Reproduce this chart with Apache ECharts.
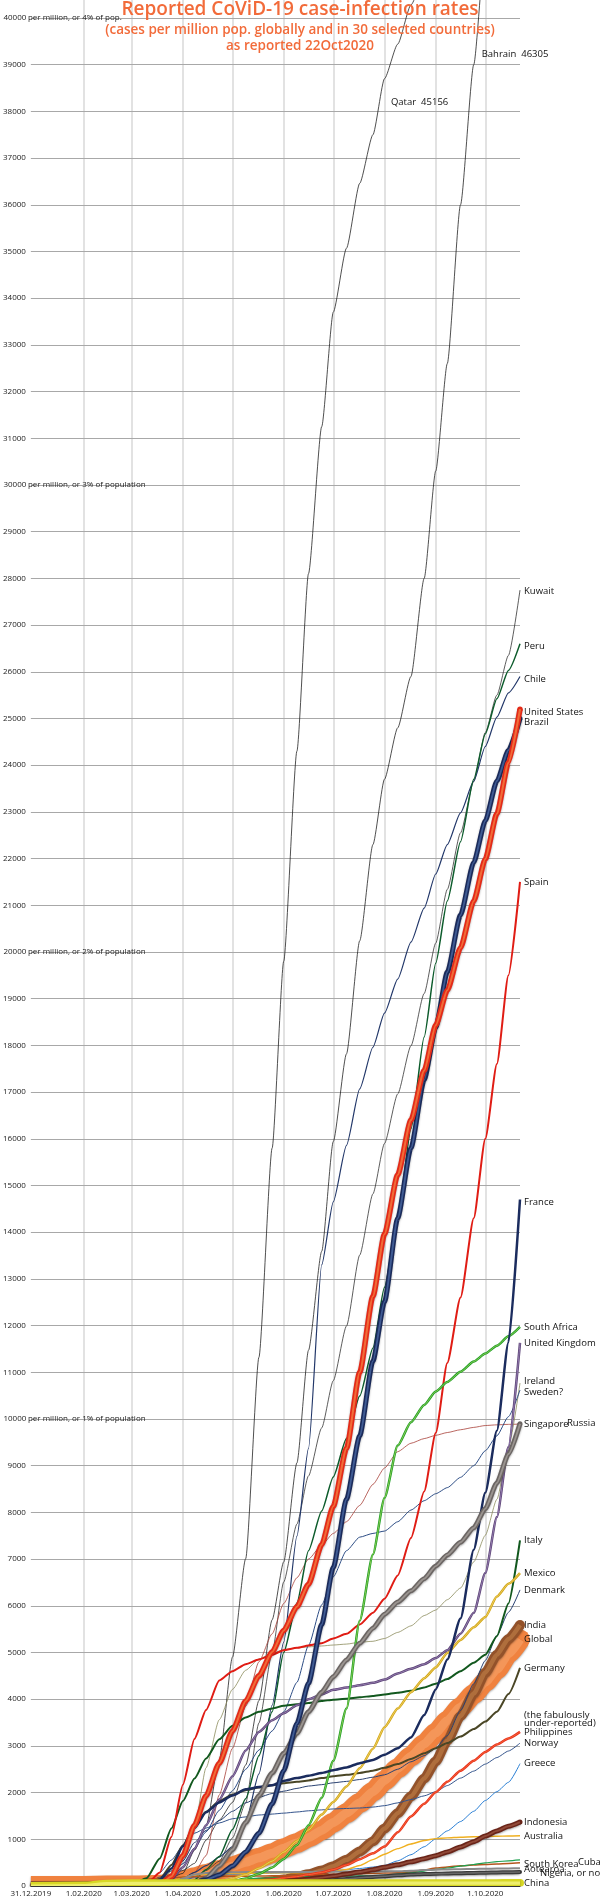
<!DOCTYPE html>
<html><head><meta charset="utf-8">
<script src="https://cdn.jsdelivr.net/npm/echarts@6/dist/echarts.min.js"></script>
<style>html,body{margin:0;padding:0;background:#fff}#c{width:600px;height:1899px}</style>
</head><body><div id="c"></div>
<script>
// ---- axes ----
const DAYS = [0,32,46,61,70,78,85,92,99,106,114,122,130,138,146,153,161,168,176,183,191,199,207,214,222,230,238,245,252,260,268,275,282,289,296];
const MONTH_DAYS = [0,32,61,92,122,153,183,214,245,275];
const MONTH_LABELS = ['31.12.2019','1.02.2020','1.03.2020','1.04.2020','1.05.2020','1.06.2020','1.07.2020','1.08.2020','1.09.2020','1.10.2020'];
const Y_NOTES = {10000:' per million, or 1% of population',20000:' per million, or 2% of population',30000:' per million, or 3% of population',40000:' per million, or 4% of pop.'};

// ---- cases per million, at DAYS ----
const GLOBAL = [0,1.5,9,11,15, 28,55,119,185,256, 340,423,510,603,700, 808,920,1040,1190,1360, 1560,1780,2020,2260,2520, 2780,3040,3280,3540,3830, 4110,4370,4640,4970,5280];
const INDIA = [0,0,0,0,0, 0,0.5,1.4,4,9, 17,25,44,69,100, 138,195,249,330,424, 560,740,960,1230,1560, 1920,2300,2670,3110,3640, 4120,4570,4950,5290,5590];
const US = [0,0,0,0,3, 28,205,650,1300,1930, 2630,3320,3960,4500,5010, 5470,5980,6460,7310,8130, 9370,11000,12630,13960,15230, 16400,17460,18430,19180,20090, 21090,21990,22960,24050,25200];
const BRAZIL = [0,0,0,0,0, 2,11,32,75,132, 235,430,730,1130,1760, 2470,3480,4340,5600,6820, 8280,9640,11240,12510,14300, 15800,17260,18390,19570,20790, 21920,22810,23660,24320,25000];
const SPAIN = [0,0,0,2,36, 290,1050,2170,3150,3770, 4400,4600,4750,4850,4950, 5050,5100,5150,5200,5300, 5400,5600,5850,6150,6650, 7450,8450,9700,11200,12600, 14300,16000,17600,19500,21500];
const FRANCE = [0,0,0,2,27, 135,375,850,1240,1580, 1790,1940,2070,2120,2160, 2250,2310,2360,2420,2480, 2540,2630,2700,2810,2950, 3180,3660,4210,4850,5730, 7200,8420,9750,11640,14700];
const SOUTH_AFRICA = [0,0,0,0,0, 2,12,23,31,42, 67,95,158,261,398, 580,877,1300,1890,2680, 3800,5680,7100,8310,9430, 9930,10300,10590,10790,11010, 11230,11400,11570,11770,11970];
const UK = [0,0,0,0,5, 40,140,400,800,1300, 1850,2350,2900,3300,3550, 3700,3870,4000,4100,4200, 4250,4300,4350,4420,4550, 4650,4750,4880,5050,5400, 5850,6700,7900,9400,11630];
const ITALY = [0,0,0,28,167, 590,1230,1820,2300,2730, 3140,3430,3610,3730,3800, 3860,3890,3920,3960,3990, 4010,4040,4070,4100,4140, 4180,4250,4330,4430,4600, 4780,4950,5350,6050,7400];
const GERMANY = [0,0,0,1,16, 145,450,870,1300,1590, 1820,1960,2050,2110,2160, 2200,2230,2260,2310,2350, 2380,2420,2470,2530,2610, 2720,2840,2950,3060,3200, 3360,3520,3730,4110,4670];
const PERU = [0,0,0,0,0, 4,15,32,130,350, 630,1210,1870,2790,3730, 5000,6060,7180,8030,8760, 9580,10490,11520,12820,14270, 16210,18180,19760,21090,22360, 23700,24670,25420,26030,26600];
const CHILE = [0,0,0,0,1, 12,60,160,290,435, 620,840,1360,2400,3870, 5220,7490,9370,13300,14650, 15860,17070,17960,18690,19420, 20210,20940,21670,22300,22980, 23660,24400,25030,25550,25900];
const KUWAIT = [0,0,0,10,16, 33,46,74,200,330, 530,1030,1780,3490,4990, 6510,7750,8780,9810,10820, 11990,13510,14820,15900,16960, 17990,19110,20190,21340,22550, 23650,24700,25500,26350,27750];
const QATAR = [0,0,0,0,8, 153,186,271,765,1280, 2700,4900,7010,11320,15800, 19800,24300,28100,31250,33700, 35070,36460,37500,38700,39440, 40280,40870,41390,42050,42780, 43400,43920,44410,44930,45156];
const BAHRAIN = [0,0,0,28,64, 150,246,333,483,982, 1410,1790,2590,3970,5700, 6940,9060,11470,13590,15940, 17820,20240,22300,23700,24800, 25900,28000,30300,32600,36000, 39000,41530,43410,44820,46305];
const SINGAPORE = [0,0,13,19,29, 55,111,176,285,650, 1950,2950,3850,4800,5400, 6050,6600,7000,7300,7550, 7800,8150,8600,8950,9300, 9480,9580,9650,9710,9770, 9820,9860,9875,9885,9890];
const IRELAND = [0,0,0,0,7, 59,316,700,1230,2530, 3560,4210,4620,4860,4980, 5060,5100,5120,5140,5160, 5180,5220,5240,5300,5430, 5570,5790,5910,6130,6380, 6940,7510,8280,9390,10770];
const SWEDEN = [0,0,0,1,31, 124,244,478,810,1160, 1620,2040,2500,2910,3320, 3730,4360,5150,6020,6620, 7180,7470,7550,7600,7800, 8050,8250,8400,8530,8750, 9000,9320,9640,10050,10620];
const RUSSIA = [0,0,0,0,0, 1,5,19,60,168, 430,780,1360,1930,2420, 2840,3270,3730,4150,4480, 4840,5200,5520,5820,6080, 6320,6580,6850,7090,7360, 7670,8080,8630,9250,9900];
const MEXICO = [0,0,0,0,0, 1,4,9,25,45, 90,160,244,381,532, 724,961,1200,1530,1800, 2130,2520,2940,3400,3800, 4150,4450,4680,4990,5270, 5540,5760,6200,6470,6700];
const DENMARK = [0,0,0,0,45, 190,324,535,930,1190, 1400,1600,1780,1900,1980, 2030,2090,2140,2170,2210, 2240,2280,2330,2380,2500, 2660,2790,2950,3220,3760, 4330,4830,5360,5860,6340];
const PHILIPPINES = [0,0,0,0,0, 2,6,21,35,49, 63,77,95,114,140, 169,200,244,290,350, 450,573,700,845,1150, 1490,1760,2010,2230,2470, 2680,2870,3030,3160,3300];
const NORWAY = [0,0,0,0,51, 287,555,860,1130,1240, 1350,1440,1480,1520,1540, 1560,1585,1610,1630,1650, 1660,1670,1690,1720,1780, 1850,1930,2020,2150,2310, 2460,2610,2750,2890,3060];
const GREECE = [0,0,0,0,9, 40,79,135,180,213, 235,250,260,270,275, 280,290,300,315,330, 350,375,405,440,540, 670,840,1010,1180,1380, 1600,1830,2020,2220,2620];
const INDONESIA = [0,0,0,0,0, 0,0,6,11,19, 29,39,51,64,82, 99,122,148,180,212, 255,299,350,400,455, 517,585,649,730,835, 950,1070,1180,1280,1370];
const AUSTRALIA = [0,0,0,0,4, 22,95,190,235,253, 260,265,270,275,280, 282,285,289,297,310, 353,440,565,680,800, 900,975,1015,1030,1045, 1053,1060,1065,1070,1075];
const SOUTH_KOREA = [0,0.2,0.5,71,145, 162,178,191,199,205, 207,208,210,213,217, 222,230,237,243,249, 256,264,270,276,285, 299,340,386,408,434, 448,459,471,482,496];
const CUBA = [0,0,0,0,0, 0,5,19,45,68, 105,133,155,167,175, 181,190,200,205,208, 210,215,220,230,255, 283,320,354,385,425, 460,496,520,540,558];
const AOTEAROA = [0,0,0,0,0, 4,41,159,248,281, 290,296,298,300,300, 301,301,302,304,306, 308,310,311,312,315, 328,340,350,355,360, 365,370,374,377,380];
const NIGERIA = [0,0,0,0,0, 0,0,1,1.5,2, 5,10,17,28,39, 50,63,80,105,125, 150,175,195,210,228, 245,255,262,268,275, 281,286,291,296,301];
const CHINA = [0,8.4,48.9,57,57.6, 58,58.5,59,59,59.5, 59.5,59.5,59.5,59.5,59.5, 60,60,60,60,60, 60,60,60.5,60.5,61, 61,61,61,61,61, 61,61.5,61.5,62,62];

// labels placed by data coordinate for the two lines that leave the chart
const QATAR_NOTE = [217.6, 38200];
const BAHRAIN_NOTE = [272.5, 39230];

// ---- styles (drawing order) ----
const FONT = 'Open Sans';
const LIST = [
  ['Global', GLOBAL, {c:'#f0823f', w:20, hl:'#f59a5e', hlw:0.45, tube:true, label:'Global'}],
  ['India', INDIA, {c:'#93522a', w:10, hl:'#b4733f', hlw:0.45, tube:true, label:'India'}],
  ['Bahrain', BAHRAIN, {c:'#222222', w:0.8}],
  ['Qatar', QATAR, {c:'#222222', w:0.8}],
  ['Kuwait', KUWAIT, {c:'#333333', w:0.8, label:'Kuwait', off:[0,1]}],
  ['Singapore', SINGAPORE, {c:'#a84038', w:0.8, label:'Singapore'}],
  ['Ireland', IRELAND, {c:'#8c8c5c', w:0.8, label:'Ireland', off:[0,-2]}],
  ['Sweden', SWEDEN, {c:'#2c4c84', w:1, label:'Sweden?', off:[0,2]}],
  ['Denmark', DENMARK, {c:'#2a4272', w:1, label:'Denmark'}],
  ['Norway', NORWAY, {c:'#34548c', w:1, label:'Norway'}],
  ['Greece', GREECE, {c:'#2a7fd4', w:1, label:'Greece'}],
  ['Chile', CHILE, {c:'#23386a', w:1.2, label:'Chile', off:[0,3]}],
  ['Peru', PERU, {c:'#0d5c2c', w:1.5, label:'Peru', off:[0,3]}],
  ['Australia', AUSTRALIA, {c:'#f0b020', w:1.4, label:'Australia'}],
  ['South Korea', SOUTH_KOREA, {c:'#b4561e', w:1.5, label:'South Korea', off:[0,1]}],
  ['Cuba', CUBA, {c:'#1fa050', w:1.2, label:'Cuba', off:[54,2]}],
  ['Aotearoa', AOTEAROA, {c:'#8a8a8a', w:2, label:'Aotearoa', off:[0,1]}],
  ['Germany', GERMANY, {c:'#4a4626', w:2, label:'Germany'}],
  ['Italy', ITALY, {c:'#12581e', w:2, label:'Italy'}],
  ['Spain', SPAIN, {c:'#e01c14', w:2, label:'Spain'}],
  ['Mexico', MEXICO, {c:'#d3a71a', w:2.5, hl:'#f0d468', hlw:0.38, label:'Mexico'}],
  ['United Kingdom', UK, {c:'#5e4678', w:2.5, hl:'#9b84b6', hlw:0.38, label:'United Kingdom'}],
  ['South Africa', SOUTH_AFRICA, {c:'#22a028', w:2.5, hl:'#9ad25a', hlw:0.38, label:'South Africa'}],
  ['France', FRANCE, {c:'#1b2c5e', w:2.5, label:'France', off:[0,3]}],
  ['Philippines', PHILIPPINES, {c:'#e8301e', w:2.5, hl:'#f8703a', hlw:0.38, label:'(the fabulously\nunder-reported)\nPhilippines', off:[0,-8.5], lh:8.5}],
  ['Indonesia', INDONESIA, {c:'#6a2418', w:5, hl:'#96503e', hlw:0.38, tube:true, label:'Indonesia'}],
  ['Nigeria', NIGERIA, {c:'#3a3a3a', w:4, hl:'#707070', hlw:0.38, tube:true, label:'Nigeria, or not?', off:[16,1]}],
  ['Russia', RUSSIA, {c:'#6b6563', w:5, hl:'#a29c98', hlw:0.38, tube:true, label:'Russia', off:[43,0]}],
  ['Brazil', BRAZIL, {c:'#1a2a5a', w:5, hl:'#46649e', hlw:0.38, tube:true, label:'Brazil', off:[0,4]}],
  ['United States', US, {c:'#e42a18', w:5.5, hl:'#f2783e', hlw:0.38, tube:true, label:'United States', off:[0,3]}],
  ['China', CHINA, {c:'#d8d824', w:8, hl:'#f2f27a', hlw:0.4, tube:true, label:'China'}]
];

function pts(arr){ return DAYS.map((d,i)=>[d, arr[i]]); }

const series = [{
  type:'line', z:0, silent:true, data:[[0,0]], symbol:'none', lineStyle:{opacity:0},
  markLine:{silent:true, symbol:['none','none'], label:{show:false}, animation:false, z:0,
    lineStyle:{color:'#e2e2e2', width:2, type:'solid'},
    data: MONTH_DAYS.slice(1).map(d=>({xAxis:d}))}
}];

LIST.forEach(([name, arr, st])=>{
  const data = pts(arr);
  const s = {
    type:'line', name, data, symbol:'none', showSymbol:false, silent:true,
    smooth:0.2, smoothMonotone:'x', z:2,
    lineStyle:{color:st.c, width:st.w, cap:'butt', join:'round'}
  };
  if (st.tube) {
    s.lineStyle.shadowColor = 'rgba(0,0,0,0.35)';
    s.lineStyle.shadowBlur = 2;
    s.lineStyle.shadowOffsetY = 1;
    s.markPoint = {silent:true, animation:false, symbol:'circle', symbolSize:st.w, z:2,
      itemStyle:{color:st.c}, label:{show:false},
      data:[{coord:data[data.length-1]}]};
  }
  if (st.label) {
    s.endLabel = {show:true, formatter:st.label, distance:4, offset:st.off||[0,0],
      color:'#111', fontSize:9.5, fontFamily:FONT, lineHeight:st.lh||12};
  }
  if (name==='Qatar' || name==='Bahrain') {
    const note = name==='Qatar' ? QATAR_NOTE : BAHRAIN_NOTE;
    const txt = name==='Qatar' ? 'Qatar  45156' : 'Bahrain  46305';
    s.markPoint = {silent:true, animation:false, symbol:'circle', symbolSize:1, z:3,
      itemStyle:{color:'rgba(0,0,0,0)'},
      label:{show:true, position:'right', distance:0, formatter:txt, color:'#111', fontSize:9.5, fontFamily:FONT},
      data:[{coord:note}]};
  }
  series.push(s);
  if (st.hl) {
    series.push({type:'line', name:name+' hl', data, symbol:'none', showSymbol:false, silent:true,
      smooth:0.2, smoothMonotone:'x', z:2,
      lineStyle:{color:st.hl, width:Math.max(1, st.w*st.hlw), cap:'butt', join:'round', opacity:0.85}});
  }
});

const chart = echarts.init(document.getElementById('c'), null, {renderer:'canvas'});
chart.setOption({
  animation:false,
  backgroundColor:'#ffffff',
  title:{
    text:'Reported CoViD-19 case-infection rates',
    subtext:'(cases per million pop. globally and in 30 selected countries)\nas reported 22Oct2020',
    left:'center', top:-1, padding:0, itemGap:1, z:10,
    textStyle:{fontFamily:FONT, fontWeight:600, fontSize:19, color:'#f26b3a', lineHeight:22},
    subtextStyle:{fontFamily:FONT, fontWeight:600, fontSize:13.5, color:'#f26b3a', lineHeight:16}
  },
  grid:{left:29, right:80, top:0, bottom:13},
  xAxis:{
    type:'value', min:0, max:296, z:60,
    axisLine:{show:true, lineStyle:{color:'#333', width:1}},
    axisTick:{show:false, customValues:MONTH_DAYS},
    axisLabel:{customValues:MONTH_DAYS, margin:4, fontSize:8, color:'#222', fontFamily:FONT,
      formatter:(v)=>{const i=MONTH_DAYS.indexOf(v); return i>=0?MONTH_LABELS[i]:'';}},
    splitLine:{show:false}
  },
  yAxis:{
    type:'value', min:0, max:40385, interval:1000, z:1,
    axisLine:{show:false}, axisTick:{show:false},
    axisLabel:{showMaxLabel:false, align:'left', margin:27,
      formatter:(v)=>{ if (v%1000!==0 || v>40000) return ''; const n=Y_NOTES[v]; return n?`{n|${v}}{s|${n}}`:`{n|${v}}`; },
      rich:{n:{width:22, align:'right', fontSize:8, color:'#222', fontFamily:FONT},
            s:{fontSize:8, color:'#222', fontFamily:FONT}}},
    splitLine:{show:true, showMaxLine:false, lineStyle:{color:'#a8a8a8', width:1}}
  },
  graphic:[{type:'rect', z:50, silent:true, shape:{x:29, y:1886.5, width:571, height:13}, style:{fill:'#ffffff'}}],
  series
});
</script>
</body></html>
